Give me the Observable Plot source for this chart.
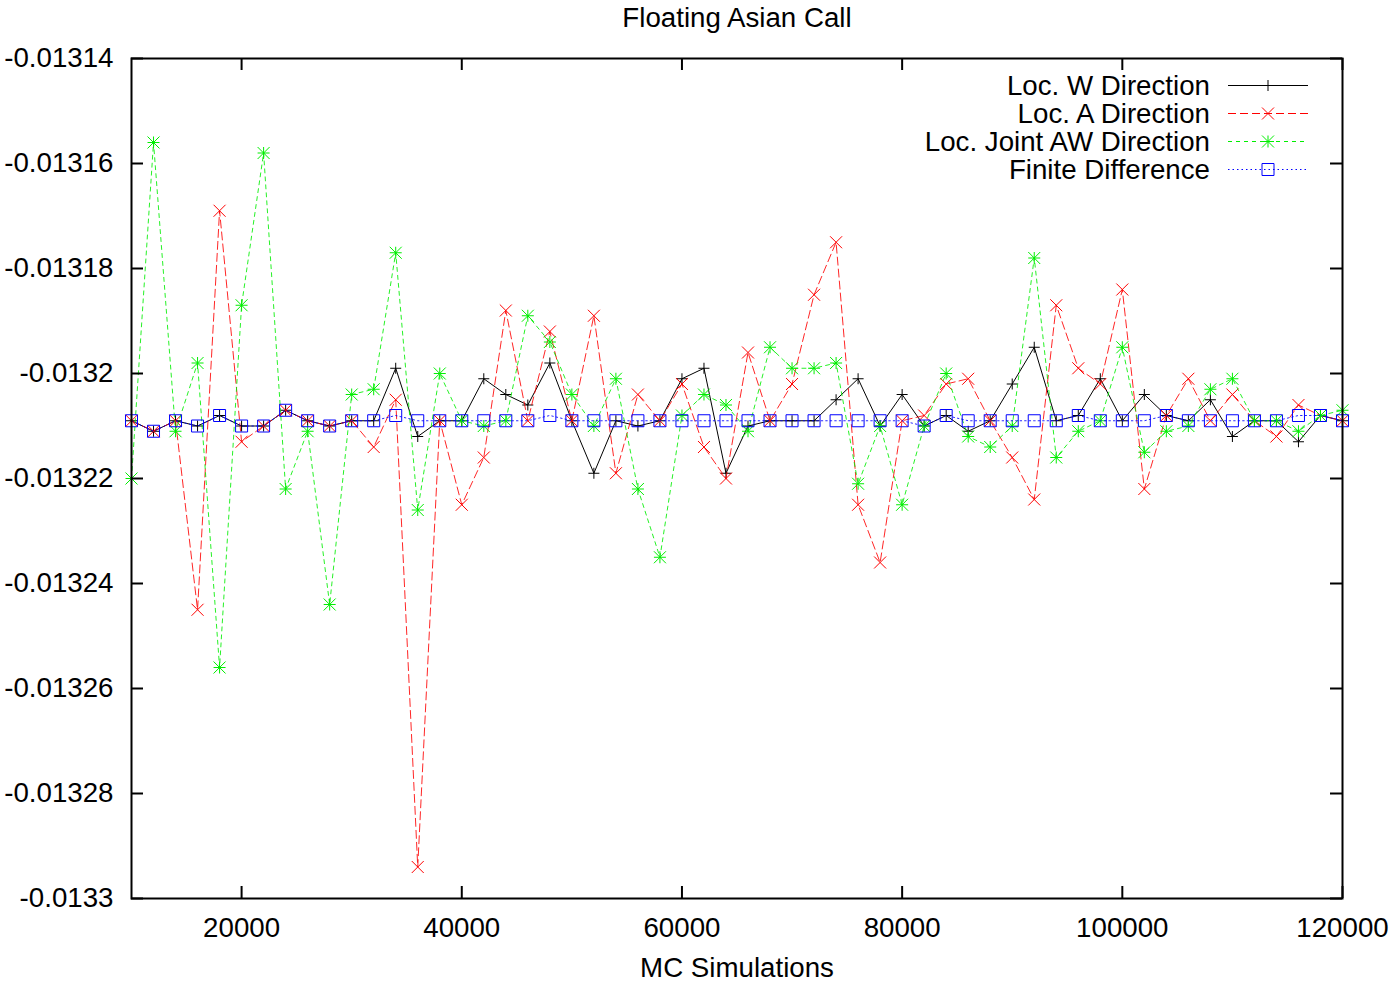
<!DOCTYPE html>
<html>
<head>
<meta charset="utf-8">
<script src="https://cdn.jsdelivr.net/npm/d3@7"></script>
<script src="https://cdn.jsdelivr.net/npm/@observablehq/plot@0.6"></script>
<style>
  html, body { margin: 0; padding: 0; background: #fff; }
  #chart { width: 1395px; height: 986px; }
</style>
</head>
<body>
<div id="chart"></div>
<script>
// ---------- data ----------
const mcSimulations = [
  10000, 12000, 14000, 16000, 18000, 20000, 22000, 24000, 26000, 28000,
  30000, 32000, 34000, 36000, 38000, 40000, 42000, 44000, 46000, 48000,
  50000, 52000, 54000, 56000, 58000, 60000, 62000, 64000, 66000, 68000,
  70000, 72000, 74000, 76000, 78000, 80000, 82000, 84000, 86000, 88000,
  90000, 92000, 94000, 96000, 98000, 100000, 102000, 104000, 106000, 108000,
  110000, 112000, 114000, 116000, 118000, 120000
];

const locW = [
  -0.013209, -0.013211, -0.013209, -0.013210, -0.013208, -0.013210, -0.013210, -0.013207, -0.013209, -0.013210,
  -0.013209, -0.013209, -0.013199, -0.013212, -0.013209, -0.013209, -0.013201, -0.013204, -0.013206, -0.013198,
  -0.013209, -0.013219, -0.013209, -0.013210, -0.013209, -0.013201, -0.013199, -0.013219, -0.013210, -0.013209,
  -0.013209, -0.013209, -0.013205, -0.013201, -0.013210, -0.013204, -0.013210, -0.013208, -0.013211, -0.013209,
  -0.013202, -0.013195, -0.013209, -0.013208, -0.013201, -0.013209, -0.013204, -0.013208, -0.013209, -0.013205,
  -0.013212, -0.013209, -0.013209, -0.013213, -0.013208, -0.013209
];

const locA = [
  -0.013209, -0.013211, -0.013209, -0.013245, -0.013169, -0.013213, -0.013210, -0.013207, -0.013209, -0.013210,
  -0.013209, -0.013214, -0.013205, -0.013294, -0.013209, -0.013225, -0.013216, -0.013188, -0.013209, -0.013192,
  -0.013209, -0.013189, -0.013219, -0.013204, -0.013209, -0.013202, -0.013214, -0.013220, -0.013196, -0.013209,
  -0.013202, -0.013185, -0.013175, -0.013225, -0.013236, -0.013209, -0.013208, -0.013202, -0.013201, -0.013209,
  -0.013216, -0.013224, -0.013187, -0.013199, -0.013202, -0.013184, -0.013222, -0.013208, -0.013201, -0.013209,
  -0.013204, -0.013209, -0.013212, -0.013206, -0.013208, -0.013209
];

const locJointAW = [
  -0.013220, -0.013156, -0.013211, -0.013198, -0.013256, -0.013187, -0.013158, -0.013222, -0.013211, -0.013244,
  -0.013204, -0.013203, -0.013177, -0.013226, -0.013200, -0.013209, -0.013210, -0.013209, -0.013189, -0.013194,
  -0.013204, -0.013210, -0.013201, -0.013222, -0.013235, -0.013208, -0.013204, -0.013206, -0.013211, -0.013195,
  -0.013199, -0.013199, -0.013198, -0.013221, -0.013210, -0.013225, -0.013210, -0.013200, -0.013212, -0.013214,
  -0.013210, -0.013178, -0.013216, -0.013211, -0.013209, -0.013195, -0.013215, -0.013211, -0.013210, -0.013203,
  -0.013201, -0.013209, -0.013209, -0.013211, -0.013208, -0.013207
];

const finiteDifference = [
  -0.013209, -0.013211, -0.013209, -0.013210, -0.013208, -0.013210, -0.013210, -0.013207, -0.013209, -0.013210,
  -0.013209, -0.013209, -0.013208, -0.013209, -0.013209, -0.013209, -0.013209, -0.013209, -0.013209, -0.013208,
  -0.013209, -0.013209, -0.013209, -0.013209, -0.013209, -0.013209, -0.013209, -0.013209, -0.013209, -0.013209,
  -0.013209, -0.013209, -0.013209, -0.013209, -0.013209, -0.013209, -0.013210, -0.013208, -0.013209, -0.013209,
  -0.013209, -0.013209, -0.013209, -0.013208, -0.013209, -0.013209, -0.013209, -0.013208, -0.013209, -0.013209,
  -0.013209, -0.013209, -0.013209, -0.013208, -0.013208, -0.013209
];

const seriesNames = ["Loc. W Direction", "Loc. A Direction", "Loc. Joint AW Direction", "Finite Difference"];
const xTicks = [20000, 40000, 60000, 80000, 100000, 120000];
const yTicks = [-0.0133, -0.01328, -0.01326, -0.01324, -0.01322, -0.0132, -0.01318, -0.01316, -0.01314];
const titleText = "Floating Asian Call";
const xLabelText = "MC Simulations";

// ---------- marker shapes (gnuplot style) ----------
const half = s => Math.sqrt(s / Math.PI);
const symPlus = { draw(c, s) { const r = half(s); c.moveTo(-r, 0); c.lineTo(r, 0); c.moveTo(0, -r); c.lineTo(0, r); } };
const symTimes = { draw(c, s) { const r = half(s); c.moveTo(-r, -r); c.lineTo(r, r); c.moveTo(-r, r); c.lineTo(r, -r); } };
const symStar = { draw(c, s) { const r = half(s); c.moveTo(-r, 0); c.lineTo(r, 0); c.moveTo(0, -r); c.lineTo(0, r);
  c.moveTo(-r, -r); c.lineTo(r, r); c.moveTo(-r, r); c.lineTo(r, -r); } };
const symSquare = { draw(c, s) { const r = half(s); c.rect(-r, -r, 2 * r, 2 * r); } };

const styles = [
  { values: locW, stroke: "#000000", dash: null, symbol: symPlus, r: 5.5 },
  { values: locA, stroke: "#ff0000", dash: "8,4", symbol: symTimes, r: 6 },
  { values: locJointAW, stroke: "#00ee00", dash: "4,4", symbol: symStar, r: 6 },
  { values: finiteDifference, stroke: "#0000ff", dash: "1.5,3", symbol: symSquare, r: 6 }
];

const tables = styles.map(s => mcSimulations.map((x, i) => ({ x, y: s.values[i] })));

const W = 1395, H = 986;
const mL = 131, mT = 58, mR = 53, mB = 88;
const frameW = W - mL - mR, frameH = H - mT - mB;
const tickLen = 12;
const FONT = "'Liberation Sans', Arial, Helvetica, sans-serif";
const FS = 27.7;

const marks = [];
// series: lines then markers
styles.forEach((s, k) => {
  marks.push(Plot.line(tables[k], { x: "x", y: "y", stroke: s.stroke, strokeWidth: 1, strokeDasharray: s.dash, strokeOpacity: k === 0 ? 1 : 0.85 }));
  marks.push(Plot.dot(tables[k], { x: "x", y: "y", symbol: s.symbol, r: s.r, fill: "none", stroke: s.stroke, strokeWidth: 1 }));
});

// frame and inward mirrored ticks
marks.push(
  Plot.frame({ stroke: "#000", strokeWidth: 2 }),
  Plot.tickX(xTicks, { x: d => d, insetTop: frameH - tickLen, stroke: "#000", strokeWidth: 2 }),
  Plot.tickX(xTicks, { x: d => d, insetBottom: frameH - tickLen, stroke: "#000", strokeWidth: 2 }),
  Plot.tickY(yTicks, { y: d => d, insetRight: frameW - tickLen, stroke: "#000", strokeWidth: 2 }),
  Plot.tickY(yTicks, { y: d => d, insetLeft: frameW - tickLen, stroke: "#000", strokeWidth: 2 }),
  Plot.axisX(xTicks, { tickSize: 0, tickPadding: 19, fontSize: FS, tickFormat: d => String(d), label: null, fill: "#000" }),
  Plot.axisY(yTicks, { tickSize: 0, tickPadding: 18, fontSize: FS, tickFormat: d => String(+d.toFixed(5)), label: null, fill: "#000" }),
  Plot.text([titleText], { text: d => d, frameAnchor: "top", lineAnchor: "middle", dy: -40, fontSize: FS, fill: "#000" }),
  Plot.text([xLabelText], { text: d => d, frameAnchor: "bottom", lineAnchor: "middle", dy: 70, fontSize: FS, fill: "#000" })
);

const plot = Plot.plot({
  width: W, height: H,
  marginLeft: mL, marginTop: mT, marginRight: mR, marginBottom: mB,
  style: { fontFamily: FONT, fontSize: FS + "px", color: "#000", background: "#fff" },
  x: { domain: [10000, 120000], axis: null },
  y: { domain: [-0.0133, -0.01314], axis: null },
  marks
});

// ---------- legend (top right, inside frame) ----------
const svg = d3.select(plot);
const lg = svg.append("g").attr("font-family", FONT).attr("font-size", FS);
const textRight = W - mR - 132, lineX1 = W - mR - 114, lineX2 = W - mR - 34, markX = W - mR - 74;
seriesNames.forEach((name, i) => {
  const s = styles[i];
  const y = mT + 27.5 + 28 * i;
  lg.append("text").attr("x", textRight).attr("y", y).attr("dy", "0.35em")
    .attr("text-anchor", "end").attr("fill", "#000").text(name);
  lg.append("line").attr("x1", lineX1).attr("x2", lineX2).attr("y1", y).attr("y2", y)
    .attr("stroke", s.stroke).attr("stroke-width", 1).attr("stroke-dasharray", s.dash);
  lg.append("path").attr("transform", `translate(${markX},${y})`)
    .attr("d", d3.symbol(s.symbol, Math.PI * s.r * s.r)())
    .attr("fill", "none").attr("stroke", s.stroke).attr("stroke-width", 1);
});

document.getElementById("chart").appendChild(plot);
</script>
</body>
</html>
